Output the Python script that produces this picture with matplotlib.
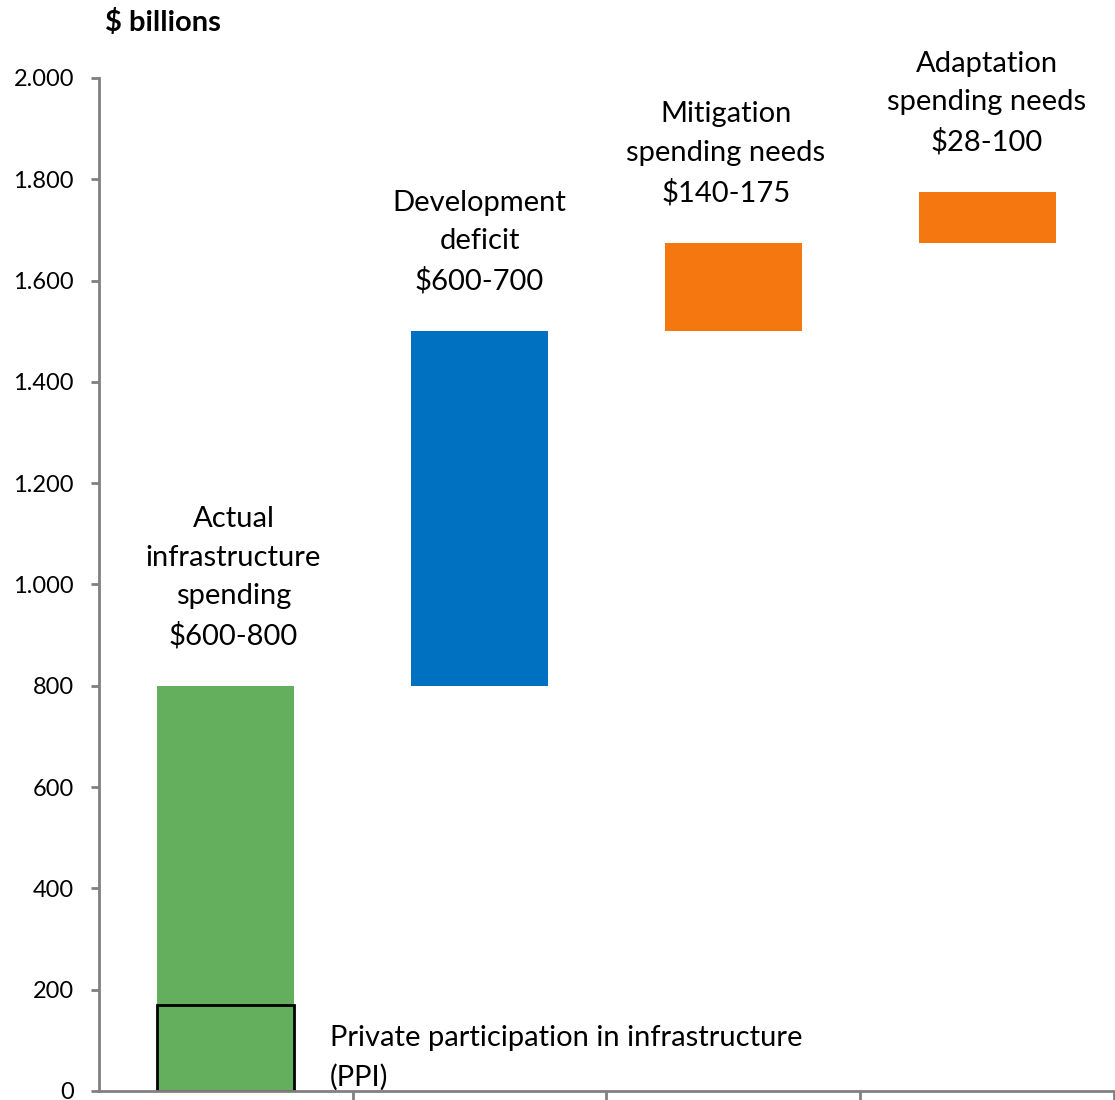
import matplotlib.pyplot as plt
from matplotlib.ticker import FuncFormatter

plt.rcParams['font.family'] = ['Lato', 'DejaVu Sans']

# floating bars, $ billions
categories = ['Actual infrastructure spending', 'Development deficit',
              'Mitigation spending needs', 'Adaptation spending needs']
bottoms = [0, 800, 1500, 1675]
tops = [800, 1500, 1675, 1775]
colors = ['#63AF5E', '#0071C1', '#F5770F', '#F5770F']
labels = ['Actual\ninfrastructure\nspending\n$600-800',
          'Development\ndeficit\n$600-700',
          'Mitigation\nspending needs\n$140-175',
          'Adaptation\nspending needs\n$28-100']
ppi_top = 170
ppi_label = 'Private participation in infrastructure\n(PPI)'

fig = plt.figure(figsize=(11.15, 11), dpi=100)
ax = fig.add_axes([0.0888, 0.0082, 0.9102, 0.9209])

x = list(range(len(categories)))
heights = [t - b for t, b in zip(tops, bottoms)]
ax.bar(x, heights, bottom=bottoms, width=0.54, color=colors, zorder=2)

# PPI box outlined in black
ax.bar(0, ppi_top, width=0.54, color=colors[0], edgecolor='black',
       linewidth=2, zorder=3)
ax.text(0.41, ppi_top - 40, ppi_label, ha='left', va='top', fontsize=21,
        linespacing=1.58)

shift = [0.03, 0, -0.03, 0]
for i, t in enumerate(tops):
    ax.text(i + shift[i], t + 72, labels[i], ha='center', va='bottom',
            fontsize=21, linespacing=1.58)

ax.set_xlim(-0.5, 3.5)
ax.set_ylim(0, 2000)
ax.set_yticks(range(0, 2001, 200))
ax.yaxis.set_major_formatter(FuncFormatter(lambda v, p: f'{int(v):,}'.replace(',', '.')))
ax.set_xticks([0.5, 1.5, 2.5, 3.5])
ax.set_xticklabels([])

for s in ['top', 'right']:
    ax.spines[s].set_visible(False)
for s in ['left', 'bottom']:
    ax.spines[s].set_color('#808080')
    ax.spines[s].set_linewidth(2)
    ax.spines[s].set_zorder(4)
ax.tick_params(axis='y', direction='out', length=6, width=2, color='#808080',
               labelsize=17, pad=12)
ax.tick_params(axis='x', direction='out', length=12, width=2, color='#808080')

fig.text(105 / 1115, 1 - 22 / 1100, '$ billions', ha='left', va='center',
         fontsize=21, fontweight='bold')

fig.savefig('out.png', dpi=100)
